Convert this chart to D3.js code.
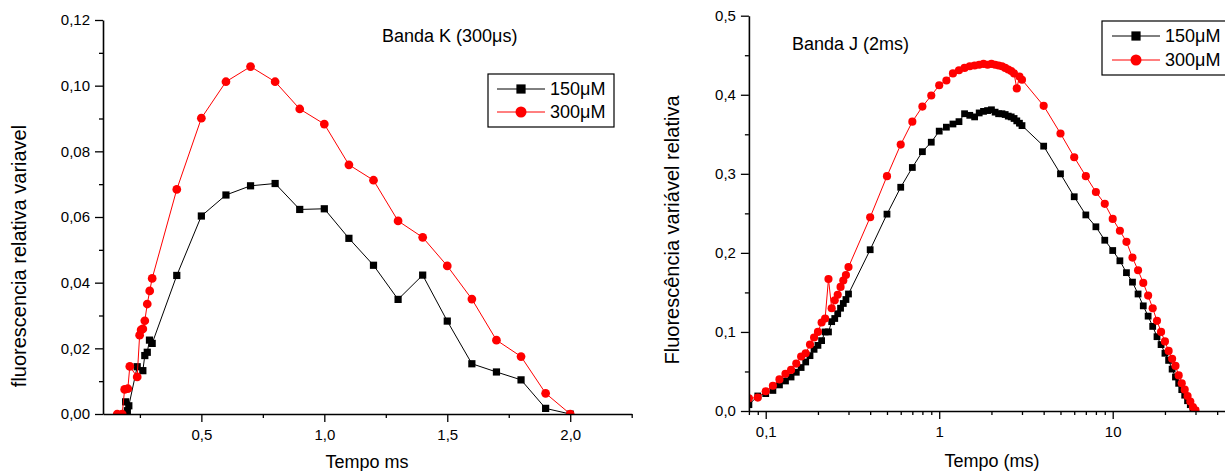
<!DOCTYPE html>
<html>
<head>
<meta charset="utf-8">
<script src="https://cdn.jsdelivr.net/npm/d3@7/dist/d3.min.js"></script>
<style>
  html, body { margin: 0; padding: 0; background: #fff; }
  svg { display: block; font-family: "Liberation Sans", Arial, sans-serif; }
</style>
</head>
<body>
<svg id="chart" width="1225" height="471"></svg>
<script>
// ---- Banda K (300 µs): time in ms, relative variable fluorescence ----
const kTime150 = [0.192, 0.199, 0.205, 0.239, 0.262, 0.270, 0.280, 0.289, 0.300,
  0.4, 0.5, 0.6, 0.7, 0.8, 0.9, 1.0, 1.1, 1.2, 1.3, 1.4, 1.5, 1.6, 1.7, 1.8, 1.9, 2.0];
const kVal150 = [0.0037, 0.0010, 0.0025, 0.0144, 0.0132, 0.0178, 0.0188, 0.0225, 0.0215,
  0.0422, 0.0603, 0.0667, 0.0695, 0.0702, 0.0623, 0.0625, 0.0535, 0.0453, 0.0349, 0.0423,
  0.0283, 0.0153, 0.0128, 0.0104, 0.0017, 0.0];
const kTime300 = [0.158, 0.178, 0.188, 0.201, 0.209, 0.239, 0.249, 0.255, 0.262, 0.270, 0.280, 0.290, 0.300,
  0.4, 0.5, 0.6, 0.7, 0.8, 0.9, 1.0, 1.1, 1.2, 1.3, 1.4, 1.5, 1.6, 1.7, 1.8, 1.9, 2.0];
const kVal300 = [0.0, 0.0, 0.0075, 0.0077, 0.0145, 0.0113, 0.0240, 0.0256, 0.0259, 0.0284, 0.0335, 0.0375, 0.0413,
  0.0684, 0.0901, 0.1012, 0.1058, 0.1012, 0.0929, 0.0883, 0.0759, 0.0712, 0.0588, 0.0538,
  0.0451, 0.0350, 0.0225, 0.0175, 0.0063, 0.0];
const kYTicks = [0, 0.02, 0.04, 0.06, 0.08, 0.10, 0.12];
const kYMinor = [0.01, 0.03, 0.05, 0.07, 0.09, 0.11];
const kXTicks = [0.5, 1.0, 1.5, 2.0];
const kXMinor = [0.25, 0.75, 1.25, 1.75, 2.25];

// ---- Banda J (2 ms): time in ms (log scale), relative variable fluorescence ----
const jTime = [0.08, 0.09, 0.10, 0.11, 0.12, 0.13, 0.14, 0.15, 0.16, 0.17, 0.18, 0.19, 0.20,
  0.21, 0.22, 0.23, 0.24, 0.25, 0.26, 0.27, 0.28, 0.29, 0.30,
  0.4, 0.5, 0.6, 0.7, 0.8, 0.9, 1.0,
  1.1, 1.2, 1.3, 1.4, 1.5, 1.6, 1.7, 1.8, 1.9, 2.0, 2.1, 2.2, 2.3, 2.4, 2.5, 2.6, 2.7, 2.8, 2.9, 3.0,
  4, 5, 6, 7, 8, 9, 10, 11, 12, 13, 14, 15, 16, 17, 18, 19, 20, 21, 22, 23, 24, 25, 26, 27, 28, 29, 30];
const jVal150 = [0.008, 0.019, 0.022, 0.026, 0.033, 0.038, 0.043, 0.049, 0.055, 0.062, 0.070, 0.078, 0.083,
  0.089, 0.100, 0.100, 0.113, 0.117, 0.123, 0.130, 0.136, 0.141, 0.148,
  0.204, 0.249, 0.283, 0.308, 0.328, 0.340, 0.354,
  0.359, 0.363, 0.366, 0.376, 0.374, 0.372, 0.377, 0.379, 0.380, 0.381, 0.378, 0.376, 0.376, 0.375,
  0.373, 0.372, 0.370, 0.367, 0.364, 0.361,
  0.335, 0.300, 0.271, 0.248, 0.233, 0.216, 0.203, 0.190, 0.175, 0.163, 0.148, 0.133, 0.120, 0.107,
  0.094, 0.084, 0.073, 0.064, 0.053, 0.043, 0.035, 0.027, 0.020, 0.013, 0.008, 0.002, 0.000];
const jVal300 = [0.016, 0.017, 0.025, 0.032, 0.040, 0.047, 0.052, 0.060, 0.069, 0.073, 0.084, 0.093, 0.100,
  0.112, 0.117, 0.167, 0.130, 0.140, 0.147, 0.157, 0.165, 0.172, 0.182,
  0.245, 0.297, 0.337, 0.366, 0.385, 0.399, 0.412,
  0.418, 0.427, 0.431, 0.434, 0.436, 0.437, 0.438, 0.439, 0.438, 0.439, 0.438, 0.437, 0.436, 0.434,
  0.432, 0.430, 0.427, 0.408, 0.423, 0.419,
  0.386, 0.351, 0.321, 0.297, 0.277, 0.262, 0.243, 0.228, 0.214, 0.194, 0.178, 0.162, 0.146, 0.130,
  0.114, 0.100, 0.088, 0.076, 0.066, 0.057, 0.045, 0.035, 0.027, 0.019, 0.012, 0.005, 0.001];
const jYTicks = [0, 0.1, 0.2, 0.3, 0.4, 0.5];
const jYMinor = [0.05, 0.15, 0.25, 0.35, 0.45];
const jXTicks = [0.1, 1, 10];
const jXMinor = [0.08, 0.09, 0.2, 0.3, 0.4, 0.5, 0.6, 0.7, 0.8, 0.9, 2, 3, 4, 5, 6, 7, 8, 9, 20, 30, 40];

const seriesNames = ["150\u03bcM", "300\u03bcM"];
const seriesColors = ["#000000", "#ff0000"];

const svg = d3.select("#chart");
const comma = f => (v => d3.format(f)(v).replace(".", ","));

function drawAxes(g, x, y, cfg) {
  const [x0, x1] = x.range();
  const [y0, y1] = y.range();
  // minor ticks
  g.append("g").attr("transform", `translate(0,${y0})`)
    .call(d3.axisBottom(x).tickValues(cfg.xMinor).tickSize(4).tickSizeOuter(0).tickFormat(""))
    .call(a => a.select(".domain").remove());
  g.append("g").attr("transform", `translate(${x0},0)`)
    .call(d3.axisLeft(y).tickValues(cfg.yMinor).tickSize(4).tickSizeOuter(0).tickFormat(""))
    .call(a => a.select(".domain").remove());
  // major ticks + labels
  const xa = g.append("g").attr("transform", `translate(0,${y0})`)
    .call(d3.axisBottom(x).tickValues(cfg.xTicks).tickSize(8).tickSizeOuter(0).tickPadding(7).tickFormat(cfg.xFmt));
  const ya = g.append("g").attr("transform", `translate(${x0},0)`)
    .call(d3.axisLeft(y).tickValues(cfg.yTicks).tickSize(8).tickSizeOuter(0).tickPadding(5).tickFormat(cfg.yFmt));
  [xa, ya].forEach(a => {
    a.select(".domain").attr("stroke-width", 1.6);
    a.selectAll("text").attr("font-size", cfg.tickFont).attr("fill", "#000")
      .attr("font-family", "\"Liberation Sans\", Arial, sans-serif");
  });
  g.selectAll(".tick line").attr("stroke-width", 1.3);
}

function drawSeries(g, x, y, times, vals, color, marker, size, clipId) {
  const pts = times.map((t, i) => [t, vals[i]]);
  const layer = g.append("g").attr("clip-path", `url(#${clipId})`);
  layer.append("path").datum(pts)
    .attr("fill", "none").attr("stroke", color).attr("stroke-width", 1)
    .attr("d", d3.line().x(d => x(d[0])).y(d => y(d[1])));
  const sym = d3.symbol().type(marker === "square" ? d3.symbolSquare : d3.symbolCircle).size(size);
  layer.selectAll("path.m").data(pts).join("path").attr("class", "m")
    .attr("transform", d => `translate(${x(d[0])},${y(d[1])})`)
    .attr("d", sym).attr("fill", color);
}

function drawLegend(g, x, yTop, w, h, lineX0, lineX1, textX, rows, fontSize) {
  g.append("rect").attr("x", x).attr("y", yTop).attr("width", w).attr("height", h)
    .attr("fill", "#fff").attr("stroke", "#000").attr("stroke-width", 1.2);
  rows.forEach((r, i) => {
    const cy = r.y;
    g.append("line").attr("x1", lineX0).attr("x2", lineX1).attr("y1", cy).attr("y2", cy)
      .attr("stroke", seriesColors[i]).attr("stroke-width", 1);
    const sym = d3.symbol().type(i === 0 ? d3.symbolSquare : d3.symbolCircle).size(i === 0 ? 85 : 95);
    g.append("path").attr("d", sym).attr("fill", seriesColors[i])
      .attr("transform", `translate(${(lineX0 + lineX1) / 2},${cy})`);
    g.append("text").attr("x", textX).attr("y", cy).attr("dy", "0.36em")
      .attr("font-size", fontSize).text(seriesNames[i]);
  });
}

const defs = svg.append("defs");

// ================= Banda K =================
{
  const x = d3.scaleLinear().domain([0.1, 2.25]).range([103, 631.7]);
  const y = d3.scaleLinear().domain([0, 0.12]).range([414, 20]);
  const g = svg.append("g");
  defs.append("clipPath").attr("id", "clipK").append("rect")
    .attr("x", 103).attr("y", 0).attr("width", 631.7 - 103).attr("height", 414);
  drawSeries(g, x, y, kTime150, kVal150, seriesColors[0], "square", 52, "clipK");
  drawSeries(g, x, y, kTime300, kVal300, seriesColors[1], "circle", 60, "clipK");
  drawAxes(g, x, y, {
    xTicks: kXTicks, xMinor: kXMinor, yTicks: kYTicks, yMinor: kYMinor,
    xFmt: comma(".1f"), yFmt: comma(".2f"), tickFont: 15
  });
  g.append("text").attr("x", 382).attr("y", 42).attr("font-size", 18).text("Banda K (300\u03bcs)");
  g.append("text").attr("x", 367).attr("y", 468).attr("text-anchor", "middle")
    .attr("font-size", 18).text("Tempo ms");
  g.append("text").attr("transform", "translate(26,256) rotate(-90)").attr("text-anchor", "middle")
    .attr("font-size", 20).text("fluorescencia relativa variavel");
  drawLegend(g, 488, 74, 126, 53, 497, 545, 550, [{ y: 89 }, { y: 112 }], 18);
}

// ================= Banda J =================
{
  const x = d3.scaleLog().domain([0.08, 46]).range([748.9, 1227.7]);
  const y = d3.scaleLinear().domain([0, 0.5]).range([411, 15.7]);
  const g = svg.append("g");
  defs.append("clipPath").attr("id", "clipJ").append("rect")
    .attr("x", 749).attr("y", 0).attr("width", 1227.7 - 749).attr("height", 411);
  drawSeries(g, x, y, jTime, jVal150, seriesColors[0], "square", 46, "clipJ");
  drawSeries(g, x, y, jTime, jVal300, seriesColors[1], "circle", 52, "clipJ");
  drawAxes(g, x, y, {
    xTicks: jXTicks, xMinor: jXMinor, yTicks: jYTicks, yMinor: jYMinor,
    xFmt: v => (v < 1 ? comma(".1f")(v) : String(v)), yFmt: comma(".1f"), tickFont: 15
  });
  g.append("text").attr("x", 792).attr("y", 50).attr("font-size", 18).text("Banda J (2ms)");
  g.append("text").attr("x", 992).attr("y", 467).attr("text-anchor", "middle")
    .attr("font-size", 18).text("Tempo (ms)");
  g.append("text").attr("transform", "translate(679,230) rotate(-90)").attr("text-anchor", "middle")
    .attr("font-size", 20).text("Fluoresc\u00eancia vari\u00e1vel relativa");
  drawLegend(g, 1102, 21, 140, 54, 1112, 1160, 1165, [{ y: 36 }, { y: 60 }], 18);
}
</script>
</body>
</html>
